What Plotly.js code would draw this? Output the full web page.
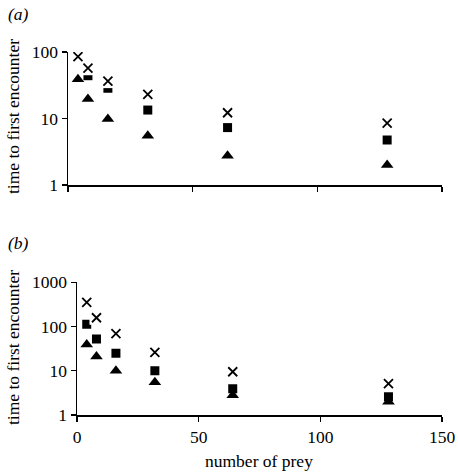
<!DOCTYPE html>
<html><head><meta charset="utf-8">
<script src="https://cdn.plot.ly/plotly-3.0.1.min.js"></script>
<style>html,body{margin:0;padding:0;background:#fff}#chart{width:458px;height:472px}</style>
</head><body><div id="chart"></div>
<script>
var preyCounts = [4, 8, 16, 32, 64, 128];
var aCross = [85, 57, 36.5, 23, 12.2, 8.5];
var aSquare = [null, 44, 28.5, 13.4, 7.3, 4.75];
var aTriangle = [39, 19.6, 9.8, 5.5, 2.75, 2.0];
var bCross = [350, 158, 69, 26, 9.5, 5.1];
var bSquare = [112, 52, 25, 10, 3.9, 2.6];
var bTriangle = [39, 21, 10, 5.5, 2.8, 2.0];
var xTicks = [0, 50, 100, 150];
var aYTicks = [1, 10, 100];
var bYTicks = [1, 10, 100, 1000];

var W = 458, H = 472;
function px(x){return x/W;}
function py(y){return (H-y)/H;}

function mk(x, y, sym, size, color, xa, ya){
  var m = {symbol: sym, size: size, color: color};
  if (sym === 'x-thin-open') m.line = {color:color, width:1.8};
  else m.line = {width:0};
  return {x:x, y:y, type:'scatter', mode:'markers', marker:m, xaxis:xa, yaxis:ya, showlegend:false, hoverinfo:'skip'};
}

var data = [
  mk(preyCounts, aSquare, 'square', 9, '#000', 'x', 'y'),
  mk(preyCounts, aTriangle, 'triangle-up', 11, '#000', 'x', 'y'),
  mk(preyCounts, aCross, 'square', 14, '#fff', 'x', 'y'),
  mk(preyCounts, aCross, 'x-thin-open', 9, '#000', 'x', 'y'),
  mk(preyCounts, bSquare, 'square', 9, '#000', 'x2', 'y2'),
  mk(preyCounts, bTriangle, 'triangle-up', 11, '#000', 'x2', 'y2'),
  mk(preyCounts, bCross, 'square', 14, '#fff', 'x2', 'y2'),
  mk(preyCounts, bCross, 'x-thin-open', 9, '#000', 'x2', 'y2')
];

var font = {family: '"Liberation Serif", "DejaVu Serif", serif', size: 17.5, color: '#000'};
var axBase = {showgrid:false, zeroline:false, showline:true, linecolor:'#000', linewidth:1.5,
  ticks:'outside', ticklen:5, tickwidth:1.2, tickcolor:'#000', tickfont:font, fixedrange:true};

var layout = {
  width: W, height: H,
  margin: {l:0, r:0, t:0, b:0},
  paper_bgcolor:'#fff', plot_bgcolor:'#fff',
  font: font,
  showlegend: false,
  xaxis: Object.assign({}, axBase, {domain:[px(68), px(442)], range:[0,150], tickvals:xTicks, showticklabels:false, anchor:'y'}),
  yaxis: Object.assign({}, axBase, {domain:[py(185), py(52)], type:'log', range:[0,2], tickvals:aYTicks, ticktext:aYTicks.map(String), anchor:'x'}),
  xaxis2: Object.assign({}, axBase, {domain:[px(77), px(442)], range:[0,150], tickvals:xTicks, ticktext:xTicks.map(String), anchor:'y2'}),
  yaxis2: Object.assign({}, axBase, {domain:[py(415), py(282.3)], type:'log', range:[0,3], tickvals:bYTicks, ticktext:bYTicks.map(String), anchor:'x2'}),
  annotations: [
    {text:'<i>(a)</i>', xref:'paper', yref:'paper', x:px(6), y:py(14), xanchor:'left', yanchor:'middle', showarrow:false, font:font},
    {text:'<i>(b)</i>', xref:'paper', yref:'paper', x:px(6), y:py(243), xanchor:'left', yanchor:'middle', showarrow:false, font:font},
    {text:'time to first encounter', xref:'paper', yref:'paper', x:px(13), y:py(117), xanchor:'center', yanchor:'middle', textangle:-90, showarrow:false, font:font},
    {text:'time to first encounter', xref:'paper', yref:'paper', x:px(13), y:py(348), xanchor:'center', yanchor:'middle', textangle:-90, showarrow:false, font:font},
    {text:'number of prey', xref:'paper', yref:'paper', x:px(259), y:py(461), xanchor:'center', yanchor:'middle', showarrow:false, font:font}
  ]
};

Plotly.newPlot('chart', data, layout, {displayModeBar:false, staticPlot:true});
</script>
</body></html>
